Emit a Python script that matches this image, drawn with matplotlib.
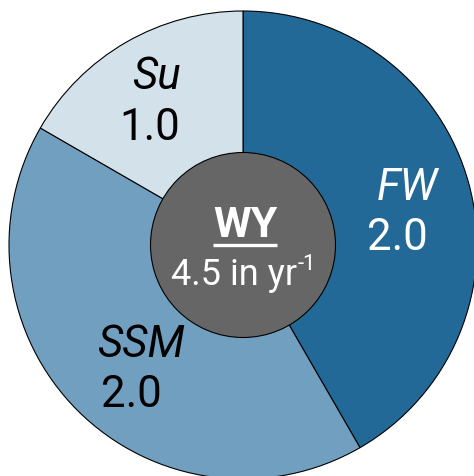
import matplotlib
matplotlib.use("Agg")
import matplotlib.pyplot as plt
from matplotlib.patches import Circle
from matplotlib.lines import Line2D

# ---- data ----
components = ["FW", "SSM", "Su"]
wedge_values = [1.875, 1.875, 0.75]      # wedge sizes (sum 4.5)
value_labels = ["2.0", "2.0", "1.0"]      # labels printed on the chart
total_label = "4.5"
center_name = "WY"

colors = ["#236997", "#719FBF", "#D3E1EB"]
label_colors = ["white", "black", "black"]

plt.rcParams["font.family"] = ["Roboto", "DejaVu Sans"]

W, H = 474, 477
fig = plt.figure(figsize=(W / 100, H / 100), dpi=100)
ax = fig.add_axes([0, 0, 1, 1])
cx, cy, R = 243.0, 246.0, 234.0


def px(x, y):
    return (x - cx) / R, (cy - y) / R


ax.pie(wedge_values, colors=colors, startangle=90, counterclock=False,
       radius=1.0, center=(0, 0),
       wedgeprops=dict(edgecolor="black", linewidth=0.8))
ax.set_xlim(px(0, 0)[0], px(W, 0)[0])
ax.set_ylim(px(0, H)[1], px(0, 0)[1])
ax.set_aspect("auto")
ax.axis("off")

# center disc
ax.add_patch(Circle((0, 0), 92.5 / R, facecolor="#666666", edgecolor="black",
                    linewidth=0.8, zorder=5))

# wedge labels (positions in pixels)
name_pos = [(407, 188), (141, 345), (156, 77)]
val_pos = [(397, 238), (131, 395), (150, 128)]
for name, val, npos, vpos, c in zip(components, value_labels, name_pos, val_pos, label_colors):
    ax.text(*px(*npos), name, ha="center", va="center", fontsize=31.5,
            style="italic", color=c, zorder=6)
    ax.text(*px(*vpos), val, ha="center", va="center", fontsize=31.5,
            color=c, zorder=6)

# center text
wy = ax.text(*px(245, 226), center_name, ha="center", va="center", fontsize=31,
             fontweight="bold", color="white", zorder=7)
ax.text(*px(297, 285), f"{total_label} in yr", ha="right", va="baseline",
        fontsize=26, color="white", zorder=7)
ax.text(*px(298, 270), "-1", ha="left", va="baseline",
        fontsize=16, color="white", zorder=7)

fig.canvas.draw()
bb = wy.get_window_extent(fig.canvas.get_renderer())
xl = ax.get_xlim()
x0 = bb.x0 / W * (xl[1] - xl[0]) + xl[0]
x1 = bb.x1 / W * (xl[1] - xl[0]) + xl[0]
yl = px(0, 246)[1]
ax.add_line(Line2D([x0, x1], [yl, yl], color="white", linewidth=2.4, zorder=7,
                   solid_capstyle="butt"))

fig.savefig("out.png", dpi=100)
